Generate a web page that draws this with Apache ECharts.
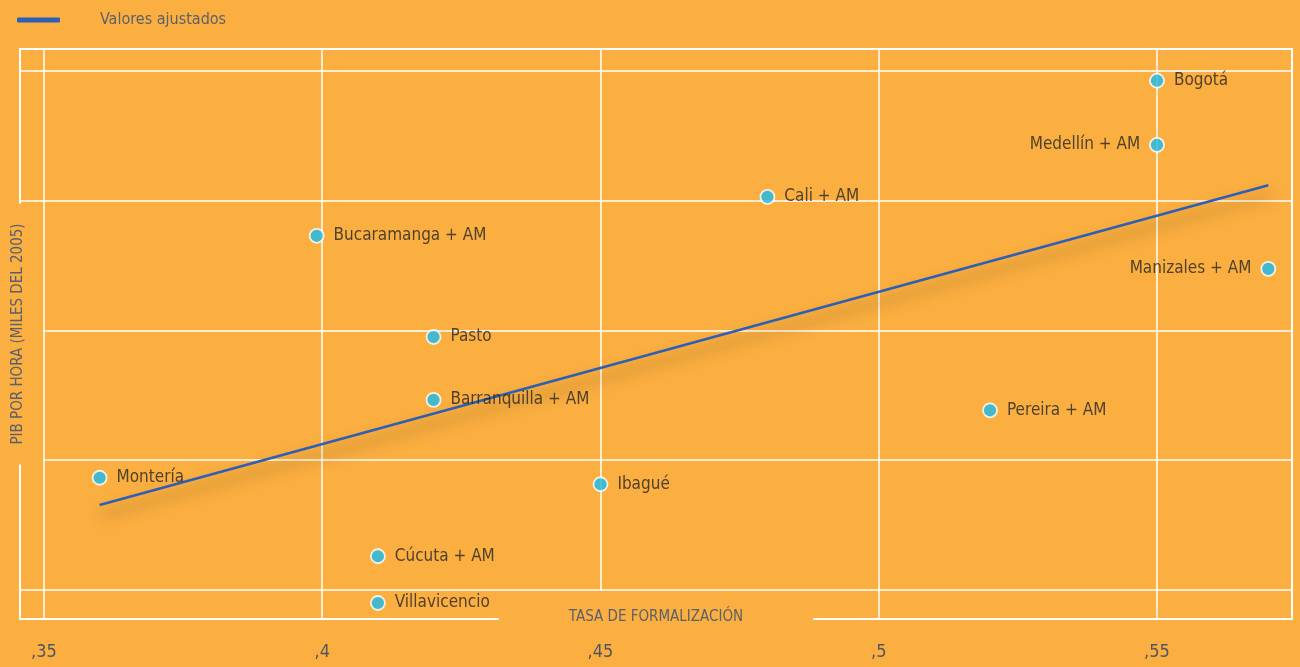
<!DOCTYPE html>
<html>
<head>
<meta charset="utf-8">
<script src="https://cdn.jsdelivr.net/npm/echarts@6/dist/echarts.min.js"></script>
<style>
  html, body { margin: 0; padding: 0; background: #FBAF40; }
  #chart { width: 1300px; height: 667px; }
</style>
</head>
<body>
<div id="chart"></div>
<script>
// Ciudades: tasa de formalización vs. PIB por hora (miles del 2005)
const cities = [
  'Bogotá', 'Medellín + AM', 'Cali + AM', 'Bucaramanga + AM', 'Manizales + AM', 'Pasto',
  'Barranquilla + AM', 'Pereira + AM', 'Montería', 'Ibagué', 'Cúcuta + AM', 'Villavicencio'
];
const formalization = [0.55, 0.55, 0.48, 0.399, 0.570, 0.42, 0.42, 0.52, 0.36, 0.45, 0.41, 0.41];
const pibPerHour = [11.85, 10.86, 10.06, 9.46, 8.95, 7.90, 6.93, 6.77, 5.73, 5.63, 4.52, 3.80];

// Recta de valores ajustados (extremos)
const fittedX = [0.36, 0.57];
const fittedY = [5.31, 10.24];

// Marcas del eje X
const xTicks = [0.35, 0.40, 0.45, 0.50, 0.55];
const xTickLabels = [',35', ',4', ',45', ',5', ',55'];
// Líneas guía del eje Y
const yTicks = [4, 6, 8, 10, 12];

const BG = '#FBAF40';
const FONT = '"DejaVu Sans Condensed", "Noto Sans", sans-serif';
const TITLE_COLOR = '#5b606b';
const leftLabeled = new Set(['Medellín + AM', 'Manizales + AM']);

const scatterData = cities.map((name, i) => {
  const item = { name: name, value: [formalization[i], pibPerHour[i]] };
  if (leftLabeled.has(name)) item.label = { position: 'left' };
  return item;
});
const fittedData = fittedX.map((x, i) => [x, fittedY[i]]);

const chart = echarts.init(document.getElementById('chart'), null, { renderer: 'canvas' });

const frameLine = { show: true, onZero: false, lineStyle: { color: '#ffffff', width: 2 } };
const gridLine = { show: true, lineStyle: { color: '#ffffff', width: 1.5 } };
const hidden = { show: false };
const noLine = { show: false, onZero: false };

// Ejes sólo de marco (una línea blanca por lado)
function frameAxis(position) {
  return {
    type: 'value', position: position, min: 0, max: 1,
    axisLine: frameLine, axisTick: hidden, axisLabel: hidden, splitLine: hidden, z: 0
  };
}
// Ejes sólo de título; el fondo del título interrumpe el marco
function titleAxis(position, name, extra) {
  return Object.assign({
    type: 'value', position: position, min: 0, max: 1,
    axisLine: noLine, axisTick: hidden, axisLabel: hidden, splitLine: hidden,
    name: name, nameLocation: 'middle', nameMoveOverlap: false, z: 1
  }, extra);
}

chart.setOption({
  backgroundColor: BG,
  animation: false,
  textStyle: { fontFamily: FONT },
  legend: {
    left: 17,
    top: 12,
    padding: 0,
    itemWidth: 43,
    itemHeight: 5,
    data: [{ name: 'Valores ajustados', icon: 'roundRect' }],
    textStyle: { color: TITLE_COLOR, fontSize: 16, fontFamily: FONT, padding: [0, 0, 0, 35] }
  },
  grid: { left: 20, right: 8, top: 49, bottom: 48, containLabel: false, outerBoundsMode: 'none' },
  xAxis: [{
    type: 'value',
    position: 'bottom',
    min: 0.34569,
    max: 0.57426,
    axisLine: noLine,
    axisTick: { show: false, customValues: xTicks },
    splitLine: gridLine,
    axisLabel: {
      customValues: xTicks,
      formatter: (v) => xTickLabels[xTicks.findIndex(t => Math.abs(t - v) < 1e-6)],
      color: '#4f5560',
      fontSize: 18,
      margin: 24,
      fontFamily: FONT
    },
    z: 0
  },
  frameAxis('bottom'),
  frameAxis('top'),
  titleAxis('bottom', 'TASA DE FORMALIZACIÓN', {
    nameGap: -28,
    nameTextStyle: {
      color: TITLE_COLOR, fontSize: 15, lineHeight: 18, fontFamily: FONT,
      backgroundColor: BG, padding: [17, 70, 4, 70]
    }
  })],
  yAxis: [{
    type: 'value',
    position: 'left',
    min: 3.553,
    max: 12.339,
    axisLine: noLine,
    axisTick: { show: false, customValues: yTicks },
    axisLabel: hidden,
    splitLine: gridLine,
    z: 0
  },
  frameAxis('left'),
  frameAxis('right'),
  titleAxis('left', 'PIB POR HORA (MILES DEL 2005)', {
    nameRotate: 90,
    nameGap: -23,
    nameTextStyle: {
      color: TITLE_COLOR, fontSize: 15, lineHeight: 18, fontFamily: FONT,
      backgroundColor: BG, padding: [4, 20, 16, 20]
    }
  })],
  series: [{
    name: 'Valores ajustados',
    type: 'line',
    data: fittedData,
    showSymbol: false,
    symbol: 'none',
    color: '#2D5FB4',
    lineStyle: {
      color: '#2D5FB4',
      width: 2.5,
      shadowColor: 'rgba(60, 40, 0, 0.5)',
      shadowBlur: 14,
      shadowOffsetX: 2,
      shadowOffsetY: 10
    },
    z: 3
  }, {
    name: 'Ciudades',
    type: 'scatter',
    data: scatterData,
    symbolSize: 14,
    itemStyle: { color: '#19BAEF', borderColor: '#ffffff', borderWidth: 1.8 },
    label: {
      show: true,
      position: 'right',
      distance: 9,
      formatter: '{b}',
      color: '#262626',
      fontSize: 17,
      fontFamily: FONT
    },
    z: 4
  }]
});
</script>
</body>
</html>
